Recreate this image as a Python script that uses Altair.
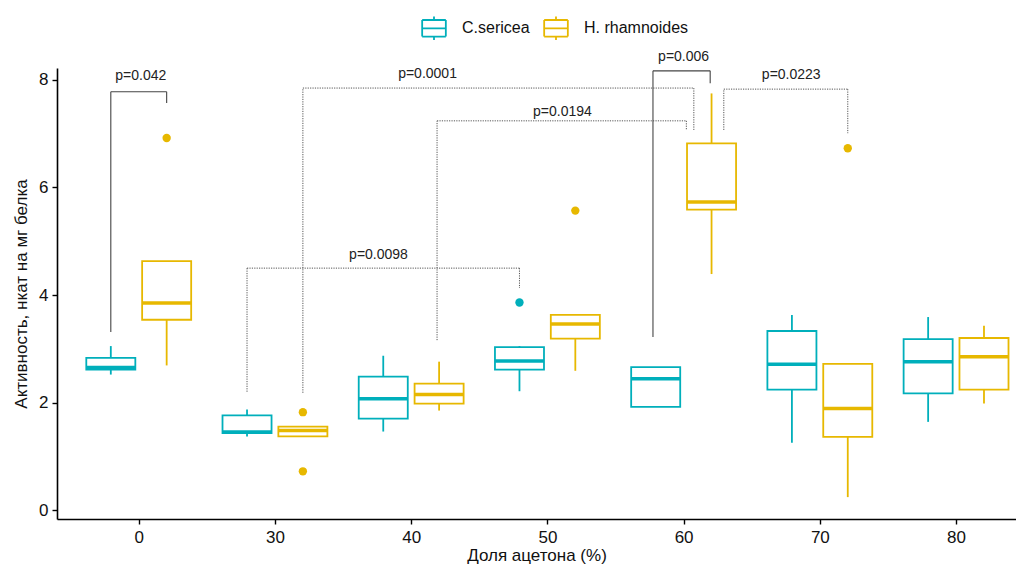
import altair as alt
import pandas as pd

# ---- data ----
categories = ["0", "30", "40", "50", "60", "70", "80"]
series = ["C.sericea", "H. rhamnoides"]
colors = ["#00AFBB", "#E7B800"]

c_low = [2.52, 1.37, 1.46, 2.21, 1.92, 1.25, 1.64]
c_q1 = [2.61, 1.43, 1.70, 2.61, 1.92, 2.24, 2.17]
c_med = [2.65, 1.45, 2.07, 2.77, 2.44, 2.71, 2.76]
c_q3 = [2.83, 1.76, 2.48, 3.03, 2.66, 3.33, 3.18]
c_high = [3.05, 1.87, 2.87, 3.05, 2.66, 3.63, 3.59]

h_low = [2.69, 1.37, 1.85, 2.59, 4.39, 0.24, 1.98]
h_q1 = [3.54, 1.37, 1.98, 3.19, 5.59, 1.36, 2.24]
h_med = [3.85, 1.48, 2.15, 3.46, 5.73, 1.89, 2.85]
h_q3 = [4.63, 1.55, 2.35, 3.63, 6.82, 2.72, 3.20]
h_high = [4.63, 1.55, 2.76, 3.63, 7.75, 2.72, 3.43]

c_out_cat = ["50"]
c_out_val = [3.86]
h_out_cat = ["0", "30", "30", "50", "70"]
h_out_val = [6.92, 1.82, 0.72, 5.57, 6.73]

# significance brackets (x in category-index units, y in data units)
p_labels = ["p=0.042", "p=0.0001", "p=0.0194", "p=0.006", "p=0.0223", "p=0.0098"]
p_x1 = [-0.205, 1.205, 2.19, 3.775, 4.295, 0.795]
p_x2 = [0.205, 4.075, 4.02, 4.195, 5.205, 2.795]
p_top = [7.78, 7.85, 7.24, 8.17, 7.83, 4.50]
p_left = [3.31, 2.18, 3.16, 3.22, 7.07, 2.20]
p_right = [7.57, 7.07, 7.07, 7.94, 7.01, 4.13]
p_tx = [0.015, 2.12, 3.11, 4.0, 4.79, 1.76]
p_ty = [8.07, 8.11, 7.40, 8.43, 8.09, 4.74]
p_solid = [True, False, False, True, False, False]

# ---- tables ----
DODGE = 0.205
HALF = 0.18
rows = []
stats = {
    series[0]: (c_low, c_q1, c_med, c_q3, c_high, -DODGE),
    series[1]: (h_low, h_q1, h_med, h_q3, h_high, DODGE),
}
for s, (lo, q1, md, q3, hi, off) in stats.items():
    for i, cat in enumerate(categories):
        x = i + off
        rows.append(dict(series=s, cat=cat, x=x, xl=x - HALF, xr=x + HALF,
                         lo=lo[i], q1=q1[i], med=md[i], q3=q3[i], hi=hi[i]))
boxes = pd.DataFrame(rows)

out_rows = []
for s, cats, vals, off in [(series[0], c_out_cat, c_out_val, -DODGE),
                           (series[1], h_out_cat, h_out_val, DODGE)]:
    for c, v in zip(cats, vals):
        out_rows.append(dict(series=s, x=categories.index(c) + off, y=v))
outliers = pd.DataFrame(out_rows)

seg_rows = []
for i in range(len(p_labels)):
    st = "solid" if p_solid[i] else "dotted"
    seg_rows.append(dict(style=st, x=p_x1[i], x2=p_x1[i], y=p_left[i], y2=p_top[i]))
    seg_rows.append(dict(style=st, x=p_x1[i], x2=p_x2[i], y=p_top[i], y2=p_top[i]))
    seg_rows.append(dict(style=st, x=p_x2[i], x2=p_x2[i], y=p_top[i], y2=p_right[i]))
segs = pd.DataFrame(seg_rows)
ptext = pd.DataFrame(dict(label=p_labels, x=p_tx, y=p_ty))

# ---- scales ----
FONT = "Liberation Sans"
label_expr = "[" + ",".join("'%s'" % c for c in categories) + "][datum.value]"
xs = alt.Scale(domain=[-0.6, 6.44], nice=False, zero=False)
ys = alt.Scale(domain=[-0.167, 8.223], nice=False, zero=False)
x_axis = alt.Axis(values=list(range(len(categories))), labelExpr=label_expr,
                  grid=False, titleY=36, titleBaseline="middle", labelPadding=5)
y_axis = alt.Axis(values=[0, 2, 4, 6, 8], format="d", grid=False, titleX=-36,
                  titleBaseline="middle", labelPadding=4)
cscale = alt.Scale(domain=series, range=colors)

# boxplot icon drawn as open line segments only (so nothing gets filled)
box_path = ("M-1,-0.7H1 M1,-0.7V0.7 M1,0.7H-1 M-1,0.7V-0.7 "
            "M-1,0H1 M0,-0.7V-1 M0,0.7V1")
legend = alt.Legend(title=None, orient="none", direction="horizontal",
                    legendX=364, legendY=-53, padding=0,
                    symbolType=box_path, symbolSize=560,
                    symbolStrokeWidth=1.8, symbolFillColor="transparent",
                    labelFont=FONT, labelFontSize=16, labelColor="#111",
                    labelOffset=15, columnPadding=10)

rect = alt.Chart(boxes).mark_rect(filled=False, strokeWidth=1.8).encode(
    x=alt.X("xl:Q", scale=xs, axis=x_axis, title="Доля ацетона (%)"),
    x2="xr:Q",
    y=alt.Y("q1:Q", scale=ys, axis=y_axis, title="Активность, нкат на мг белка"),
    y2="q3:Q",
    stroke=alt.Stroke("series:N", scale=cscale, legend=legend))
whisk_hi = alt.Chart(boxes).mark_rule(strokeWidth=1.8).encode(
    x=alt.X("x:Q", scale=xs), y=alt.Y("hi:Q", scale=ys), y2="q3:Q",
    stroke=alt.Stroke("series:N", scale=cscale))
whisk_lo = alt.Chart(boxes).mark_rule(strokeWidth=1.8).encode(
    x=alt.X("x:Q", scale=xs), y=alt.Y("lo:Q", scale=ys), y2="q1:Q",
    stroke=alt.Stroke("series:N", scale=cscale))
median = alt.Chart(boxes).mark_rule(strokeWidth=3.5).encode(
    x=alt.X("xl:Q", scale=xs), x2="xr:Q", y=alt.Y("med:Q", scale=ys),
    stroke=alt.Stroke("series:N", scale=cscale))
pts = alt.Chart(outliers).mark_circle(size=70, opacity=1).encode(
    x=alt.X("x:Q", scale=xs), y=alt.Y("y:Q", scale=ys),
    fill=alt.Fill("series:N", scale=cscale, legend=None))
solid = alt.Chart(segs).transform_filter("datum.style == 'solid'").mark_rule(
    strokeWidth=1.1, color="#444").encode(
    x=alt.X("x:Q", scale=xs), x2="x2:Q", y=alt.Y("y:Q", scale=ys), y2="y2:Q")
dotted = alt.Chart(segs).transform_filter("datum.style == 'dotted'").mark_rule(
    strokeWidth=1.0, color="#555", strokeDash=[1.2, 1.2]).encode(
    x=alt.X("x:Q", scale=xs), x2="x2:Q", y=alt.Y("y:Q", scale=ys), y2="y2:Q")
labels = alt.Chart(ptext).mark_text(font=FONT, fontSize=14, color="#222",
                                    baseline="middle", align="center").encode(
    x=alt.X("x:Q", scale=xs), y=alt.Y("y:Q", scale=ys), text="label:N")

chart = alt.layer(rect, whisk_hi, whisk_lo, median, pts, dotted, solid, labels).properties(
    width=959, height=451,
    autosize=alt.AutoSizeParams(type="none"),
    padding={"left": 49, "top": 60, "right": 0, "bottom": 45},
).configure_view(stroke=None).configure_axis(
    labelFont=FONT, titleFont=FONT, labelFontSize=17, titleFontSize=17,
    labelColor="#111", titleColor="#111", titleFontWeight="normal",
    domainColor="#000", domainWidth=1.6, tickColor="#000", tickWidth=1.4, tickSize=5,
)

chart.save("out.html", embed_options={"renderer": "svg", "actions": False})
